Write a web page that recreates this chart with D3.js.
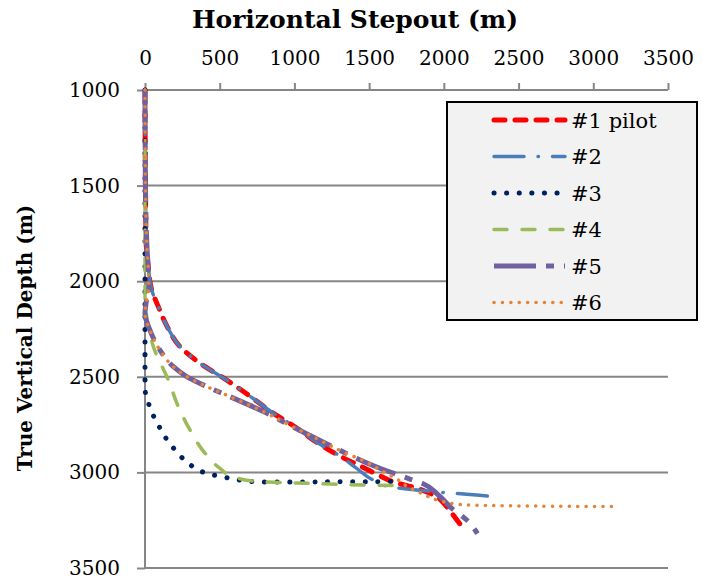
<!DOCTYPE html>
<html>
<head>
<meta charset="utf-8">
<script src="https://cdn.jsdelivr.net/npm/d3@7"></script>
<style>
    body { margin: 0; background: #fff; }
    text { font-family: "DejaVu Serif", serif; fill: #000; }
</style>
</head>
<body>
<div id="chart"></div>
<script>
// Tick values for both axes
const xTicks = [0, 500, 1000, 1500, 2000, 2500, 3000, 3500];
const yTicks = [1000, 1500, 2000, 2500, 3000, 3500];

// Well trajectories: stepout (m) and true vertical depth (m)
const well1Step  = [0, 3, 8, 22, 45, 89, 150, 234, 370, 547, 700, 860, 1000, 1160, 1310, 1450, 1560, 1690, 1790, 1930, 2020, 2070, 2108];
const well1Depth = [1000, 1500, 1800, 1925, 2046, 2133, 2240, 2342, 2430, 2517, 2600, 2691, 2760, 2848, 2917, 2970, 3013, 3057, 3076, 3118, 3179, 3231, 3270];

const well2Step  = [0, 3, 8, 22, 45, 89, 150, 234, 370, 547, 700, 860, 1000, 1160, 1310, 1410, 1528, 1640, 1751, 1930, 2030, 2153, 2331];
const well2Depth = [1000, 1500, 1800, 1925, 2046, 2133, 2240, 2342, 2430, 2517, 2600, 2691, 2760, 2848, 2917, 2975, 3040, 3075, 3087, 3100, 3107, 3114, 3127];

const well3Step  = [0, 0, 0, 0, 22, 51, 89, 129, 178, 230, 290, 357, 435, 513, 591, 681, 759, 1000, 1300, 1670];
const well3Depth = [1000, 1500, 2000, 2560, 2635, 2695, 2752, 2808, 2860, 2909, 2952, 2987, 3010, 3022, 3034, 3045, 3050, 3050, 3049, 3048];

const well4Step  = [0, 0, 0, 0, 18, 56, 156, 223, 301, 402, 502, 591, 748, 1000, 1238, 1461, 1662];
const well4Depth = [1000, 1500, 1900, 2060, 2220, 2342, 2517, 2656, 2778, 2900, 2979, 3022, 3048, 3055, 3061, 3066, 3069];

const well5Step  = [0, 3, 12, 22, 25, 8, 0, 33, 100, 190, 279, 413, 569, 792, 985, 1165, 1345, 1530, 1760, 1855, 1963, 2053, 2153, 2225];
const well5Depth = [1000, 1500, 1800, 1950, 2030, 2110, 2168, 2256, 2360, 2447, 2499, 2551, 2604, 2682, 2760, 2830, 2900, 2965, 3031, 3057, 3118, 3188, 3249, 3320];

const well6Step  = [0, 3, 12, 22, 25, 8, 0, 33, 100, 190, 279, 413, 569, 792, 985, 1165, 1345, 1450, 1595, 1696, 1740, 1840, 1885, 1997, 2097, 2219, 2600, 3152];
const well6Depth = [1000, 1500, 1800, 1950, 2030, 2110, 2168, 2256, 2360, 2447, 2499, 2551, 2604, 2682, 2760, 2830, 2900, 2935, 2996, 3040, 3066, 3106, 3123, 3153, 3167, 3172, 3176, 3179];

const seriesNames = ["#1 pilot", "#2", "#3", "#4", "#5", "#6"];

// Line looks, one per series (Excel-ish styles)
const styles = [
    {color: "#ff0000", width: 5,   dash: "11,10",        cap: "round"},
    {color: "#4a7ebb", width: 3.5, dash: "30,14,0.5,14", cap: "round"},
    {color: "#002060", width: 5,   dash: "0.1,12.5",     cap: "round"},
    {color: "#9bbb59", width: 3.5, dash: "13,15",        cap: "round"},
    {color: "#7060a0", width: 5,   dash: "42,10,8,10",   cap: "butt"},
    {color: "#e38538", width: 3.5, dash: "0.1,8.3",      cap: "round"}
];

const wells = [
    [well1Step, well1Depth], [well2Step, well2Depth], [well3Step, well3Depth],
    [well4Step, well4Depth], [well5Step, well5Depth], [well6Step, well6Depth]
].map(([s, d], i) => ({name: seriesNames[i], points: s.map((v, j) => ({x: v, y: d[j]}))}));

const margin = {top: 90, left: 145},
    width = 523,
    height = 478;

const gridColor = "#868686";

const svg = d3.select("#chart")
    .append("svg")
    .attr("width", 715)
    .attr("height", 580);

const xScale = d3.scaleLinear().domain([0, 3500]).range([margin.left, margin.left + width]);
const yScale = d3.scaleLinear().domain([1000, 3500]).range([margin.top, margin.top + height]);

// Horizontal gridlines
svg.append("g")
    .selectAll("line")
    .data(yTicks)
    .join("line")
    .attr("x1", xScale(0))
    .attr("x2", xScale(3500))
    .attr("y1", d => yScale(d))
    .attr("y2", d => yScale(d))
    .attr("stroke", gridColor)
    .attr("stroke-width", 2);

// Vertical axis line
svg.append("line")
    .attr("x1", xScale(0)).attr("x2", xScale(0))
    .attr("y1", yScale(1000)).attr("y2", yScale(3500))
    .attr("stroke", gridColor)
    .attr("stroke-width", 2);

// x axis on top
const xAxis = svg.append("g")
    .attr("transform", `translate(0,${yScale(1000)})`)
    .call(d3.axisTop(xScale).tickValues(xTicks).tickSize(7).tickPadding(18).tickFormat(d3.format("d")));

// y axis on left
const yAxis = svg.append("g")
    .attr("transform", `translate(${xScale(0)},0)`)
    .call(d3.axisLeft(yScale).tickValues(yTicks).tickSize(8).tickPadding(17).tickFormat(d3.format("d")));

[xAxis, yAxis].forEach(ax => {
    ax.select(".domain").remove();
    ax.selectAll(".tick line").attr("stroke", gridColor).attr("stroke-width", 2);
    ax.selectAll(".tick text")
        .style("font-family", "DejaVu Serif")
        .style("font-size", "20px")
        .attr("fill", "#000");
});

// Axis titles
svg.append("text")
    .attr("x", 355)
    .attr("y", 28)
    .attr("text-anchor", "middle")
    .style("font-weight", "bold")
    .style("font-size", "25px")
    .text("Horizontal Stepout (m)");

svg.append("text")
    .attr("transform", "rotate(-90)")
    .attr("x", -338)
    .attr("y", 32)
    .attr("text-anchor", "middle")
    .style("font-weight", "bold")
    .style("font-size", "20px")
    .text("True Vertical Depth (m)");

// Trajectories, depth always increases so monotone in y keeps them smooth
const line = d3.line()
    .x(d => xScale(d.x))
    .y(d => yScale(d.y))
    .curve(d3.curveMonotoneY);

svg.append("g")
    .selectAll("path")
    .data(wells)
    .join("path")
    .attr("d", d => line(d.points))
    .attr("fill", "none")
    .attr("stroke", (d, i) => styles[i].color)
    .attr("stroke-width", (d, i) => styles[i].width)
    .attr("stroke-dasharray", (d, i) => styles[i].dash)
    .attr("stroke-linecap", (d, i) => styles[i].cap);

// Legend
const legend = svg.append("g");

legend.append("rect")
    .attr("x", 447)
    .attr("y", 102)
    .attr("width", 250)
    .attr("height", 218)
    .attr("fill", "#f2f2f2")
    .attr("stroke", "#000")
    .attr("stroke-width", 2);

const rows = legend.selectAll(".row")
    .data(wells)
    .join("g")
    .attr("class", "row")
    .attr("transform", (d, i) => `translate(0,${120 + i * 36.5})`);

rows.append("line")
    .attr("x1", 494)
    .attr("x2", 565)
    .attr("stroke", (d, i) => styles[i].color)
    .attr("stroke-width", (d, i) => styles[i].width)
    .attr("stroke-dasharray", (d, i) => styles[i].dash)
    .attr("stroke-linecap", (d, i) => styles[i].cap);

rows.append("text")
    .attr("x", 571)
    .attr("dy", "0.36em")
    .style("font-size", "21px")
    .text(d => d.name);
</script>
</body>
</html>
